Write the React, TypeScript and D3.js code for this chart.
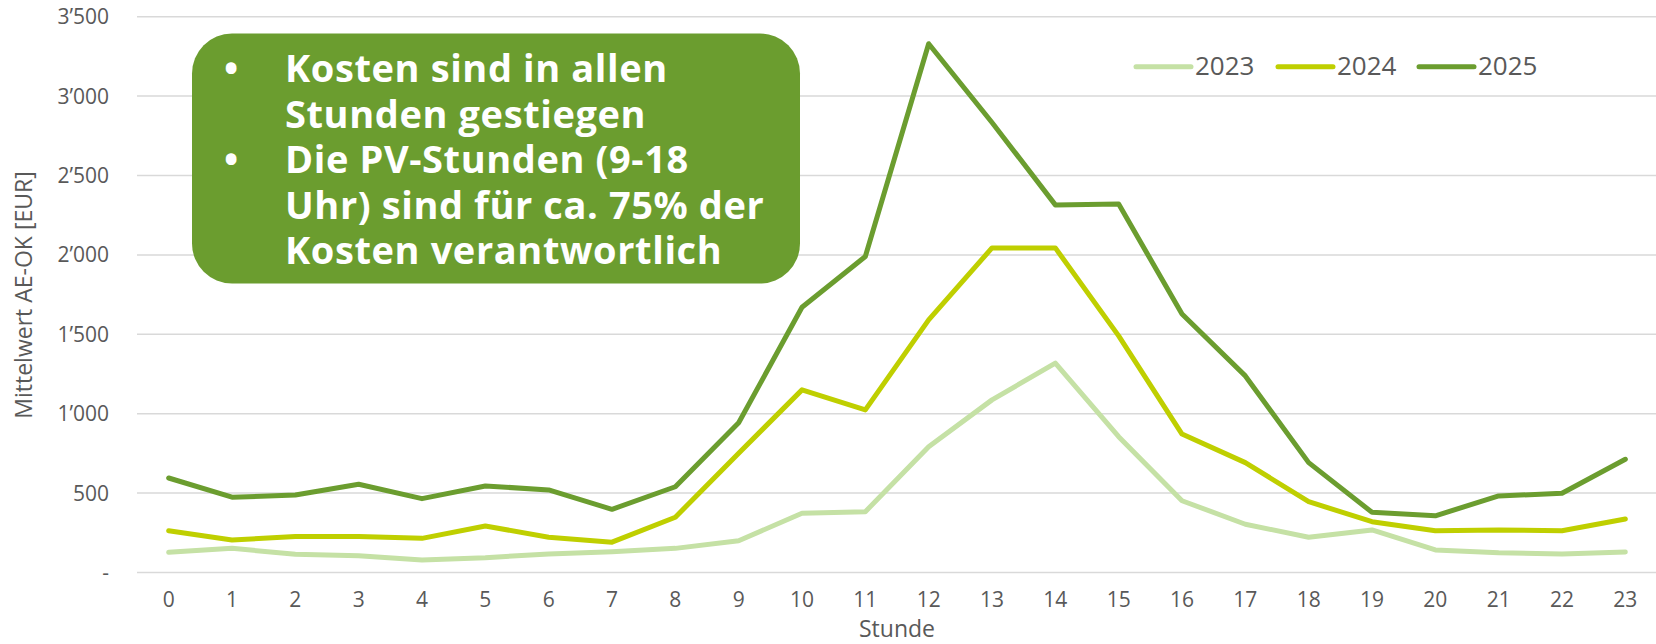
import React from 'react';
import * as d3 from 'd3';

const HOURS = d3.range(0, 24);
const YEARS = ['2023', '2024', '2025'];
const COLORS = ['#C5E1A5', '#BFCF00', '#6B9D2F'];

const V2023 = [127, 152, 115, 106, 79, 93, 117, 131, 152, 200, 373, 383, 792, 1087, 1318, 855, 452, 304, 222, 268, 142, 125, 117, 129];
const V2024 = [263, 205, 226, 226, 215, 293, 222, 191, 348, 751, 1150, 1024, 1591, 2044, 2044, 1490, 872, 692, 446, 320, 263, 268, 263, 337];
const V2025 = [595, 474, 488, 556, 465, 545, 520, 398, 540, 943, 1670, 1990, 3330, 2834, 2315, 2320, 1628, 1238, 692, 379, 357, 482, 499, 713];
const SERIES = [V2023, V2024, V2025];

const Y_TICKS = [0, 500, 1000, 1500, 2000, 2500, 3000, 3500];
const yFmt = (v: number) => (v === 0 ? '-' : d3.format(',')(v).replace(',', '\u2019'));

const NOTE = [
  {bullet: true, text: 'Kosten sind in allen'},
  {bullet: false, text: 'Stunden gestiegen'},
  {bullet: true, text: 'Die PV-Stunden (9-18'},
  {bullet: false, text: 'Uhr) sind für ca. 75% der'},
  {bullet: false, text: 'Kosten verantwortlich'},
];

const W = 1656, H = 644;
const FONT = '"Open Sans", sans-serif';
const GREY = '#595959';

const App = () => {
  const x = d3.scaleBand<number>().domain(HOURS).range([137, 1657]).padding(0);
  const cx = (h: number) => (x(h) as number) + x.bandwidth() / 2;
  const y = d3.scaleLinear().domain([0, 3500]).range([572.5, 16.7]);

  const line = d3.line<number>().x((_, i) => cx(HOURS[i])).y((d) => y(d));

  const legendX = [1136, 1278, 1419];

  return (
    <svg width={W} height={H} style={{position: 'absolute', left: 0, top: 0}} fontFamily={FONT}>
      {Y_TICKS.map((t) => (
        <g key={t}>
          <line x1={137} x2={1656} y1={y(t)} y2={y(t)} stroke="#D9D9D9" strokeWidth={1.5} />
          <text x={109} y={y(t) + 7.5} textAnchor="end" fontSize={21} fill={GREY}>{yFmt(t)}</text>
        </g>
      ))}
      {HOURS.map((h) => (
        <text key={h} x={cx(h)} y={607} textAnchor="middle" fontSize={21} fill={GREY}>{h}</text>
      ))}
      <text x={897} y={637} textAnchor="middle" fontSize={23} fill={GREY}>Stunde</text>
      <text transform={`translate(32,295) rotate(-90)`} textAnchor="middle" fontSize={23} fill={GREY}>Mittelwert AE-OK [EUR]</text>

      {SERIES.map((s, i) => (
        <path key={i} d={line(s) as string} fill="none" stroke={COLORS[i]} strokeWidth={5} strokeLinejoin="round" strokeLinecap="round" />
      ))}

      {YEARS.map((yr, i) => (
        <g key={yr}>
          <line x1={legendX[i]} x2={legendX[i] + 55} y1={66.7} y2={66.7} stroke={COLORS[i]} strokeWidth={5} strokeLinecap="round" />
          <text x={legendX[i] + 59} y={75} fontSize={26} fill={GREY}>{yr}</text>
        </g>
      ))}

      <rect x={192} y={33.5} width={608} height={250} rx={40} ry={40} fill="#6B9D2F" />
      <text fontSize={38} fontWeight={700} fill="#fff" letterSpacing={0.6}>
        {NOTE.map((n, i) => (
          <React.Fragment key={i}>
            {n.bullet && <tspan x={224} y={82 + i * 45.5}>•</tspan>}
            <tspan x={285} y={82 + i * 45.5}>{n.text}</tspan>
          </React.Fragment>
        ))}
      </text>
    </svg>
  );
};

export default App;
